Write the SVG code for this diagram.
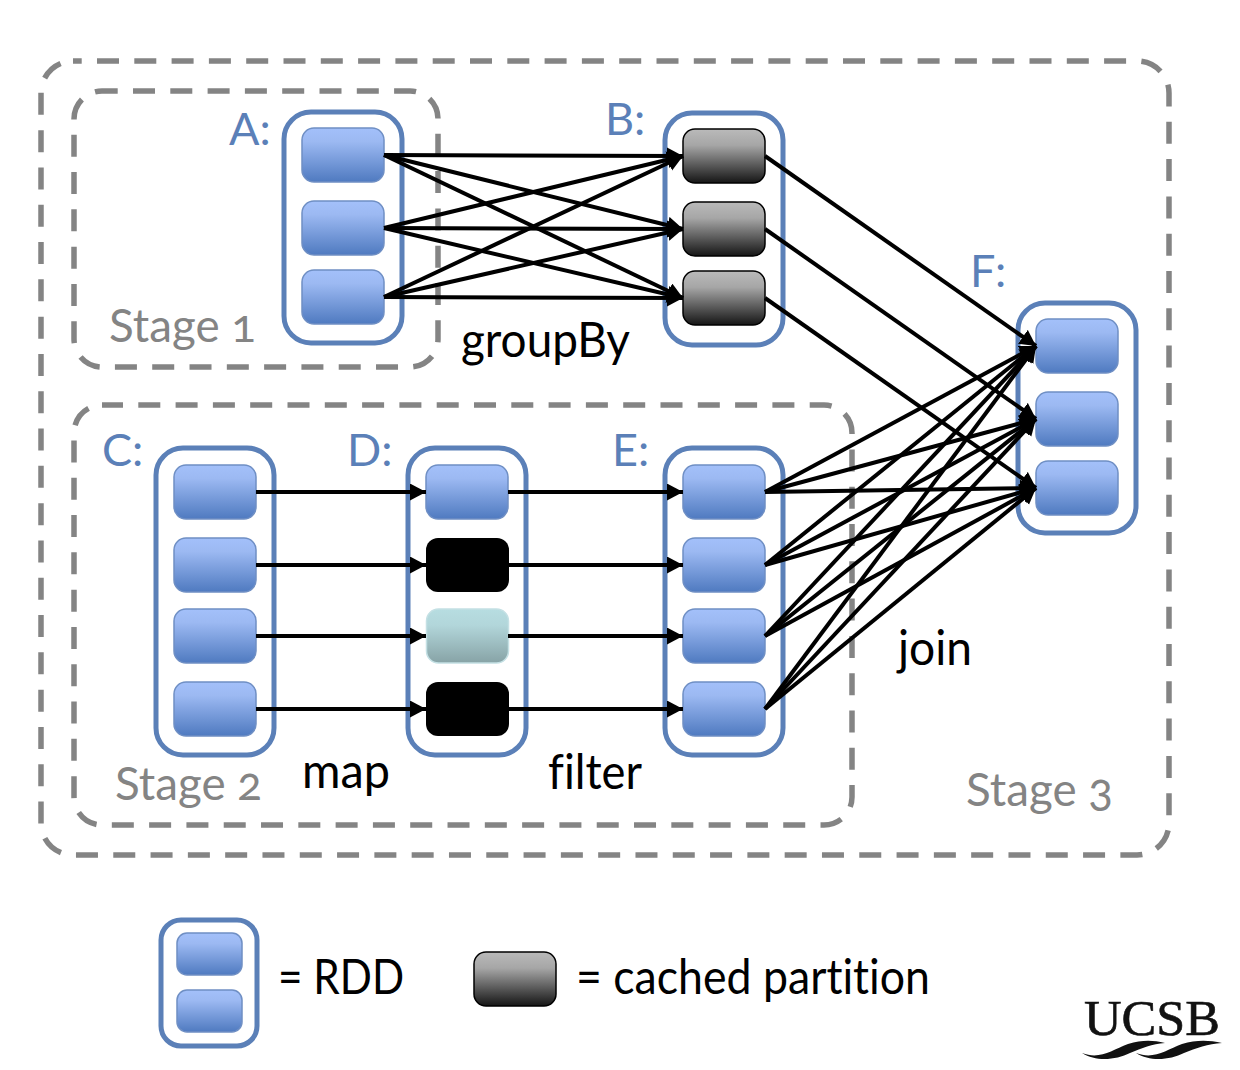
<svg xmlns="http://www.w3.org/2000/svg" width="1240" height="1070" viewBox="0 0 1240 1070">
<style>
.stage{fill:none;stroke:#848484;stroke-width:5.500;stroke-dasharray:22 15.300}
.box{fill:#fff;stroke:#5b80b8;stroke-width:5}
.p{stroke:#6f8fc4;stroke-width:1.500;fill:url(#blue)}
.c{stroke:#000;stroke-width:1.500;fill:url(#gray)}
.k{fill:#000}
.f{stroke:#c4e0e4;stroke-width:1.500;fill:url(#teal)}
.lab{font-family:"Lato","Open Sans",sans-serif;font-size:45px;fill:#5b80b8}
.st{font-family:"Lato","Open Sans",sans-serif;font-size:47px;fill:#848484;font-feature-settings:"onum"}
.op{font-family:"Lato","Open Sans",sans-serif;font-size:48px;fill:#000;font-variant-ligatures:none}
#links line{stroke:#000;stroke-width:4;marker-end:url(#a)}
</style>
<defs>
<linearGradient id="blue" x1="0" y1="0" x2="0" y2="1"><stop offset="0" stop-color="#a3c0fa"/><stop offset=".25" stop-color="#9cb9f2"/><stop offset="1" stop-color="#4f7ac0"/></linearGradient>
<linearGradient id="gray" x1="0" y1="0" x2="0" y2="1"><stop offset="0" stop-color="#bababa"/><stop offset=".3" stop-color="#a6a6a6"/><stop offset="1" stop-color="#151515"/></linearGradient>
<linearGradient id="teal" x1="0" y1="0" x2="0" y2="1"><stop offset="0" stop-color="#b7dde1"/><stop offset=".3" stop-color="#b2d6da"/><stop offset="1" stop-color="#87a3a6"/></linearGradient>
<marker id="a" markerUnits="userSpaceOnUse" markerWidth="17" markerHeight="18" refX="16" refY="8.500" orient="auto"><path d="M0 0L16 8.500L0 17z"/></marker>
</defs>
<g id="stage-3"><rect class="stage" stroke-dashoffset="-24" x="41" y="61" width="1128" height="794" rx="32"/><text class="st" x="966" y="806" textLength="147" lengthAdjust="spacingAndGlyphs">Stage 3</text></g>
<g id="stage-1"><rect class="stage" stroke-dashoffset="-31" x="74" y="91" width="364" height="276" rx="28"/><text class="st" x="109" y="342" textLength="147" lengthAdjust="spacingAndGlyphs">Stage 1</text></g>
<g id="stage-2"><rect class="stage" stroke-dashoffset="-36.300" x="74" y="405" width="778" height="420" rx="28"/><text class="st" x="115" y="800" textLength="147" lengthAdjust="spacingAndGlyphs">Stage 2</text></g>
<g id="rdd-a"><rect class="box" x="284" y="112" width="118" height="231" rx="27"/><text class="lab" x="229" y="145">A:</text>
<rect class="p" x="302" y="128" width="82" height="54" rx="12"/><rect class="p" x="302" y="201" width="82" height="54" rx="12"/><rect class="p" x="302" y="270" width="82" height="54" rx="12"/></g>
<g id="rdd-b"><rect class="box" x="665" y="113" width="118" height="232" rx="27"/><text class="lab" x="605" y="135">B:</text>
<rect class="c" x="683" y="129" width="82" height="54" rx="12"/><rect class="c" x="683" y="202" width="82" height="54" rx="12"/><rect class="c" x="683" y="271" width="82" height="54" rx="12"/></g>
<g id="rdd-f"><rect class="box" x="1018" y="303" width="118" height="230" rx="27"/><text class="lab" x="970" y="287">F:</text>
<rect class="p" x="1036" y="319" width="82" height="54" rx="12"/><rect class="p" x="1036" y="392" width="82" height="54" rx="12"/><rect class="p" x="1036" y="461" width="82" height="54" rx="12"/></g>
<g id="rdd-c"><rect class="box" x="156" y="448" width="118" height="307" rx="27"/><text class="lab" x="102" y="466">C:</text>
<rect class="p" x="174" y="465" width="82" height="54" rx="12"/><rect class="p" x="174" y="538" width="82" height="54" rx="12"/><rect class="p" x="174" y="609" width="82" height="54" rx="12"/><rect class="p" x="174" y="682" width="82" height="54" rx="12"/></g>
<g id="rdd-d"><rect class="box" x="408" y="448" width="118" height="307" rx="27"/><text class="lab" x="347" y="466">D:</text>
<rect class="p" x="426" y="465" width="82" height="54" rx="12"/><rect class="k" x="426" y="538" width="83" height="54" rx="12"/><rect class="f" x="426.500" y="609" width="82" height="54" rx="12"/><rect class="k" x="426" y="682" width="83" height="54" rx="12"/></g>
<g id="rdd-e"><rect class="box" x="665" y="448" width="118" height="307" rx="27"/><text class="lab" x="612" y="466">E:</text>
<rect class="p" x="683" y="465" width="82" height="54" rx="12"/><rect class="p" x="683" y="538" width="82" height="54" rx="12"/><rect class="p" x="683" y="609" width="82" height="54" rx="12"/><rect class="p" x="683" y="682" width="82" height="54" rx="12"/></g>
<g id="links">
<line x1="384" y1="155" x2="683" y2="156"/><line x1="384" y1="155" x2="683" y2="229"/><line x1="384" y1="155" x2="683" y2="298"/>
<line x1="384" y1="228" x2="683" y2="156"/><line x1="384" y1="228" x2="683" y2="229"/><line x1="384" y1="228" x2="683" y2="298"/>
<line x1="384" y1="297" x2="683" y2="156"/><line x1="384" y1="297" x2="683" y2="229"/><line x1="384" y1="297" x2="683" y2="298"/>
<line x1="765" y1="156" x2="1036" y2="346"/><line x1="765" y1="229" x2="1036" y2="419"/><line x1="765" y1="298" x2="1036" y2="488"/>
<line x1="256" y1="492" x2="426" y2="492"/><line x1="256" y1="565" x2="426" y2="565"/><line x1="256" y1="636" x2="426" y2="636"/><line x1="256" y1="709" x2="426" y2="709"/>
<line x1="508" y1="492" x2="683" y2="492"/><line x1="508" y1="565" x2="683" y2="565"/><line x1="508" y1="636" x2="683" y2="636"/><line x1="508" y1="709" x2="683" y2="709"/>
<line x1="765" y1="492" x2="1036" y2="346"/><line x1="765" y1="492" x2="1036" y2="419"/><line x1="765" y1="492" x2="1036" y2="488"/>
<line x1="765" y1="565" x2="1036" y2="346"/><line x1="765" y1="565" x2="1036" y2="419"/><line x1="765" y1="565" x2="1036" y2="488"/>
<line x1="765" y1="636" x2="1036" y2="346"/><line x1="765" y1="636" x2="1036" y2="419"/><line x1="765" y1="636" x2="1036" y2="488"/>
<line x1="765" y1="709" x2="1036" y2="346"/><line x1="765" y1="709" x2="1036" y2="419"/><line x1="765" y1="709" x2="1036" y2="488"/>
</g>
<g id="op-labels"><text class="op" x="461" y="357" textLength="169" lengthAdjust="spacingAndGlyphs">groupBy</text><text class="op" x="302" y="788" textLength="88" lengthAdjust="spacingAndGlyphs">map</text><text class="op" x="548" y="789" textLength="94" lengthAdjust="spacingAndGlyphs">filter</text><text class="op" x="898" y="665" textLength="74" lengthAdjust="spacingAndGlyphs">join</text></g>
<g id="legend-rdd"><rect class="box" x="161" y="920" width="96" height="126" rx="20"/><rect class="p" x="177" y="933" width="65" height="42" rx="10"/><rect class="p" x="177" y="990" width="65" height="42" rx="10"/><text class="op" x="278" y="994" textLength="126" lengthAdjust="spacingAndGlyphs">= RDD</text></g>
<g id="legend-cached"><rect class="c" x="474" y="952" width="82" height="54" rx="12"/><text class="op" x="576" y="994" textLength="354" lengthAdjust="spacingAndGlyphs">= cached partition</text></g>
<g id="ucsb-logo"><text x="1084" y="1035" font-family="Liberation Serif,serif" font-size="50" fill="#111" stroke="#111" stroke-width=".6" textLength="136" lengthAdjust="spacingAndGlyphs">UCSB</text>
<path d="M1082 1053C1100 1060 1112 1050 1128 1044C1142 1040 1152 1040 1165 1043C1152 1044 1142 1048 1130 1053C1116 1060 1096 1062 1082 1053z" fill="#111"/>
<path d="M1136 1053C1154 1060 1166 1050 1182 1044C1196 1040 1208 1040 1222 1043C1208 1044 1196 1048 1184 1053C1170 1060 1150 1062 1136 1053z" fill="#111"/></g>
</svg>
